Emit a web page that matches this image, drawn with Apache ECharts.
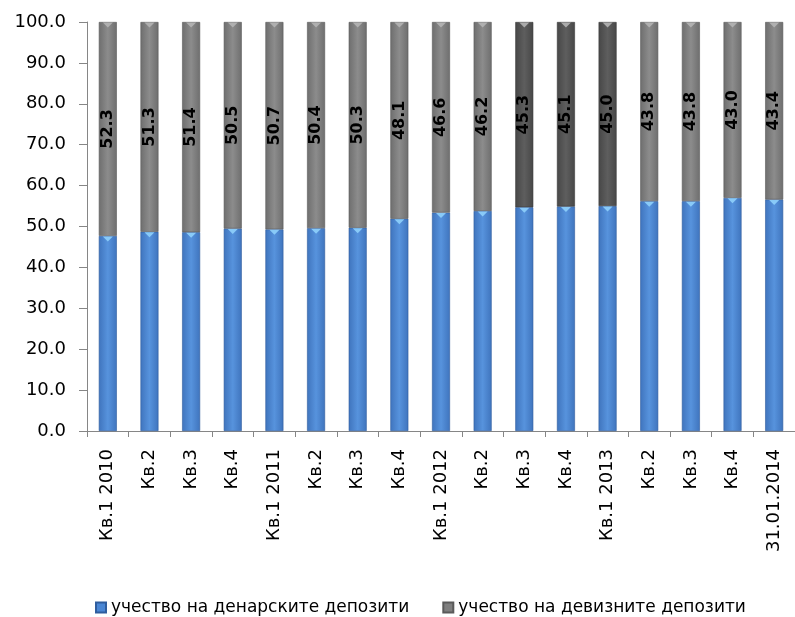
<!DOCTYPE html>
<html>
<head>
<meta charset="utf-8">
<script src="https://cdn.jsdelivr.net/npm/echarts@6/dist/echarts.min.js"></script>
<style>html,body{margin:0;padding:0;background:#fff}#c{width:795px;height:617px}</style>
</head>
<body>
<div id="c"></div>
<script>
const categories = ['Кв.1 2010','Кв.2','Кв.3','Кв.4','Кв.1 2011','Кв.2','Кв.3','Кв.4','Кв.1 2012','Кв.2','Кв.3','Кв.4','Кв.1 2013','Кв.2','Кв.3','Кв.4','31.01.2014'];
const denarShare = [47.7,48.7,48.6,49.5,49.3,49.6,49.7,51.9,53.4,53.8,54.7,54.9,55.0,56.2,56.2,57.0,56.6];
const devizShare = [52.3,51.3,51.4,50.5,50.7,50.4,50.3,48.1,46.6,46.2,45.3,45.1,45.0,43.8,43.8,43.0,43.4];
const seriesNames = ['учество на денарските депозити','учество на девизните депозити'];
const yTicks = [0,10,20,30,40,50,60,70,80,90,100];
const darkIdx = [10,11,12];

const FONT = 'DejaVu Sans';
function hGrad(edge, mid) {
  return new echarts.graphic.LinearGradient(0,0,1,0,[
    {offset:0,color:edge},{offset:0.5,color:mid},{offset:1,color:edge}]);
}
const blueStyle = {color: hGrad('#3f74bd','#5793dd'), borderColor:'#2f5d9e', borderWidth:0.6};
const grayStyle = {color: hGrad('#6e6e6e','#8c8c8c'), borderColor:'#5a5a5a', borderWidth:0.6};
const darkStyle = {color: hGrad('#474747','#5e5e5e'), borderColor:'#3a3a3a', borderWidth:0.6};

// bevel triangles at segment tops (derived from the stacked data, by category index)
const blueTops = denarShare.map((v,i)=>[i, v]);
const grayTops = denarShare.map((v,i)=>[i, v+devizShare[i]]);
const bevel = (color)=>({type:'scatter', symbol:'triangle', symbolRotate:180, symbolSize:[10,5],
  symbolOffset:[0,3], itemStyle:{color:color, opacity:0.9}, silent:true, z:5});

const chart = echarts.init(document.getElementById('c'), null, {renderer:'canvas'});
chart.setOption({
  animation:false,
  grid:{left:87, top:22, width:710, bottom:186, containLabel:false},
  legend:{
    top:594, left:90, itemGap:33, itemWidth:10, itemHeight:10, icon:'rect',
    textStyle:{fontFamily:FONT, fontSize:17, color:'#000'},
    data:[{name:seriesNames[0], itemStyle:{color:'#4a86d4'}},{name:seriesNames[1], itemStyle:{color:'#7f7f7f'}}]
  },
  xAxis:{
    type:'category', data:categories, boundaryGap:true,
    axisLine:{lineStyle:{color:'#868686',width:1}},
    axisTick:{show:true,length:6,lineStyle:{color:'#868686'},alignWithLabel:false},
    axisLabel:{rotate:90, interval:0, margin:18, fontFamily:FONT, fontSize:18, color:'#000'}
  },
  yAxis:{
    type:'value', min:yTicks[0], max:yTicks[yTicks.length-1], interval:10,
    axisLine:{show:true,lineStyle:{color:'#868686'}},
    axisTick:{show:true,length:8,lineStyle:{color:'#868686'}},
    splitLine:{show:false},
    axisLabel:{formatter:v=>v.toFixed(1), fontFamily:FONT, fontSize:18, color:'#000', margin:21}
  },
  series:[
    {name:seriesNames[0], type:'bar', stack:'s', barWidth:18, itemStyle:blueStyle,
     data:denarShare},
    {name:seriesNames[1], type:'bar', stack:'s', barWidth:18, itemStyle:grayStyle,
     data:devizShare.map((v,i)=>darkIdx.includes(i)?{value:v,itemStyle:darkStyle}:v),
     label:{show:true, position:'inside', rotate:90, formatter:p=>p.value.toFixed(1),
       fontFamily:FONT, fontWeight:'bold', fontSize:16, color:'#000'}},
    Object.assign(bevel('#8fd0fb'), {name:'bevelBlue', data:blueTops}),
    Object.assign(bevel('#b4b4b4'), {name:'bevelGray', data:grayTops})
  ]
});
</script>
</body>
</html>
